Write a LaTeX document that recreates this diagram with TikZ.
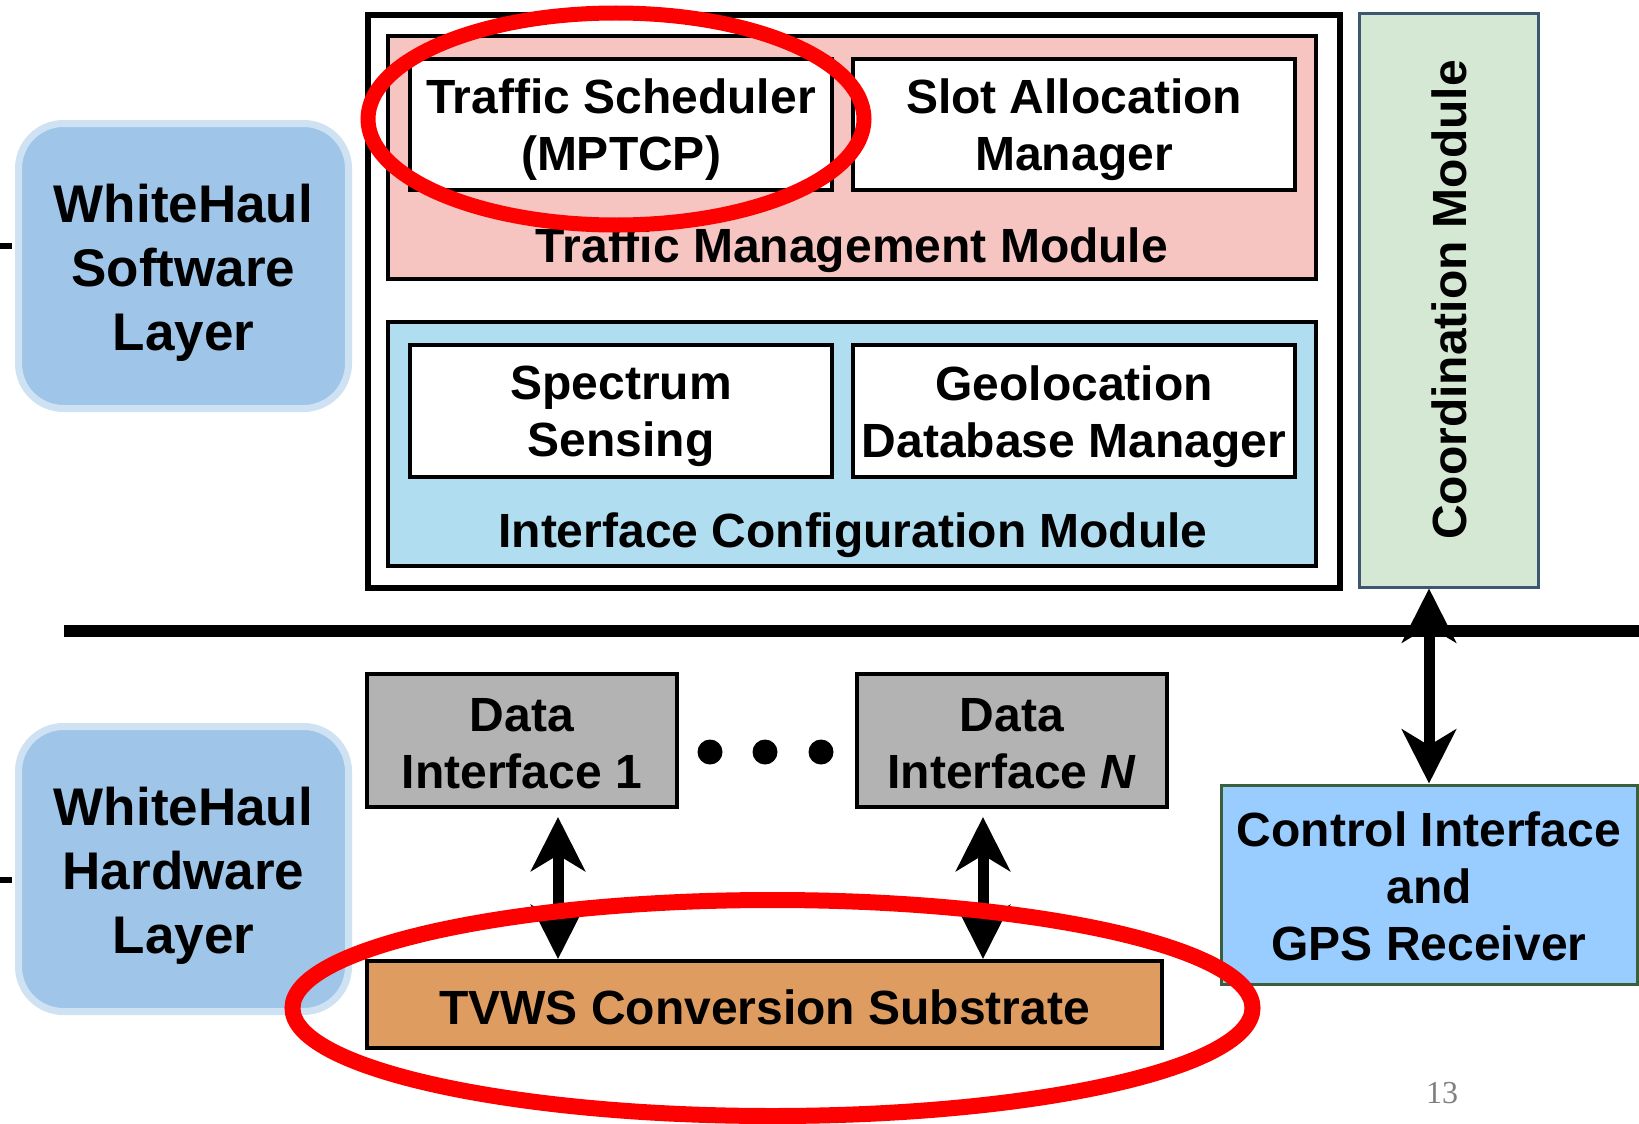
\documentclass[tikz,border=0pt]{standalone}
\usepackage{fontspec}
\setmainfont{Liberation Sans}
\newfontfamily\pagenumfont{Liberation Serif}
\usetikzlibrary{arrows.meta,calc}

\definecolor{tmmpink}{RGB}{246,196,193}
\definecolor{icmblue}{RGB}{177,221,240}
\definecolor{coordgreen}{RGB}{213,232,212}
\definecolor{coordedge}{RGB}{62,86,112}
\definecolor{datagray}{RGB}{179,179,179}
\definecolor{tvwsorange}{RGB}{222,156,96}
\definecolor{ctrlblue}{RGB}{153,204,255}
\definecolor{ctrledge}{RGB}{59,94,59}
\definecolor{layerfill}{RGB}{159,197,232}
\definecolor{layeredge}{RGB}{207,226,243}
\definecolor{markred}{RGB}{255,0,0}

\begin{document}
\begin{tikzpicture}[x=1pt,y=-1pt,
  every node/.style={font=\fontsize{48}{57}\selectfont\bfseries, align=center, inner sep=0pt},
  box/.style={draw=black, line width=4pt, rectangle},
  whitebox/.style={box, fill=white},
  layerbox/.style={draw=layeredge, fill=layerfill, line width=7pt, rounded corners=45pt,
    minimum width=330pt, minimum height=285pt},
  layertext/.style={font=\fontsize{53}{64}\selectfont\bfseries, yshift=-6.5pt},
  txt/.style={yshift=-#1},
  biarrow/.style={line width=11pt,
    {Stealth[length=54pt,width=54pt,inset=16pt]}-{Stealth[length=54pt,width=54pt,inset=16pt]}},
  dot/.style={circle, fill=black, minimum size=25pt},
  ring/.style={draw=markred}
]
\useasboundingbox (0,0) rectangle (1639,1124);
\fill[white] (0,0) rectangle (1639,1124);

% software stack frame
\node[draw=black, line width=6pt, minimum width=972pt, minimum height=573pt] (stack) at (854,301.5) {};

% traffic management module
\node[box, fill=tmmpink, minimum width=928pt, minimum height=243pt] (tmm) at (852,157.5) {};
\node[whitebox, minimum width=422pt, minimum height=131pt] (ts) at (621,124.5) {};
\node[txt=5.5pt] (tstext) at (ts) {Traffic Scheduler\\(MPTCP)};
\node[whitebox, minimum width=442pt, minimum height=131pt] (sam) at (1074,124.5) {};
\node[txt=5.5pt] (samtext) at (sam) {Slot Allocation\\Manager};
\node[txt=4pt] (tmmlabel) at (852,246) {Traffic Management Module};

% interface configuration module
\node[box, fill=icmblue, minimum width=928pt, minimum height=244pt] (icm) at (852,444) {};
\node[whitebox, minimum width=422pt, minimum height=132pt] (ss) at (621,411) {};
\node[txt=5.5pt] (sstext) at (ss) {Spectrum\\Sensing};
\node[whitebox, minimum width=442pt, minimum height=132pt] (gdm) at (1074,411) {};
\node[txt=5.5pt] (gdmtext) at (gdm) {Geolocation\\Database Manager};
\node[txt=4pt] (icmlabel) at (853,531) {Interface Configuration Module};

% coordination module
\node[draw=coordedge, fill=coordgreen, line width=3pt, minimum width=179pt, minimum height=573pt] (coord) at (1448.5,300.5) {};
\node[rotate=90] (coordlabel) at (1449,300) {Coordination Module};

% software / hardware separation bus
\coordinate (busL) at (64,631);
\coordinate (busR) at (1639,631);
\draw[line width=12pt] (busL) -- (busR);

% layer tags and their stubs
\node[layerbox] (swlayer) at (183.5,266) {};
\node[layertext] (swtext) at (swlayer) {WhiteHaul\\Software\\Layer};
\node[layerbox] (hwlayer) at (183.5,869) {};
\node[layertext] (hwtext) at (hwlayer) {WhiteHaul\\Hardware\\Layer};
\coordinate (swstub) at (0,246);
\coordinate (hwstub) at (0,880);
\draw[line width=6pt] (swstub) -- ++(12,0);
\draw[line width=6pt] (hwstub) -- ++(12,0);

% hardware blocks
\node[box, fill=datagray, minimum width=310pt, minimum height=133pt] (di1) at (522,740.5) {};
\node[txt=3.5pt] (di1text) at (di1) {Data\\Interface 1};
\node[box, fill=datagray, minimum width=310pt, minimum height=133pt] (diN) at (1012,740.5) {};
\node[txt=3.5pt] (diNtext) at (diN) {Data\\Interface \textit{N}};
\node[dot] (dotA) at (710,752) {};
\node[dot] (dotB) at (765,752) {};
\node[dot] (dotC) at (821,752) {};
\node[box, fill=tvwsorange, minimum width=795pt, minimum height=87pt] (tvws) at (764.5,1004.5) {};
\node[txt=3pt] (tvwstext) at (tvws) {TVWS Conversion Substrate};
\node[draw=ctrledge, fill=ctrlblue, line width=3pt, minimum width=416pt, minimum height=199pt] (ctrl) at (1429,884.5) {};
\node[txt=2pt] (ctrltext) at (ctrl) {Control Interface\\and\\GPS Receiver};

% links
\draw[biarrow, shorten <=8pt] ([xshift=36pt]di1.south) -- ([xshift=36pt]di1.south |- tvws.north);
\draw[biarrow, shorten <=8pt] ([xshift=-29pt]diN.south) -- ([xshift=-29pt]diN.south |- tvws.north);
\draw[biarrow] (ctrl.north |- coord.south) -- (ctrl.north);

% highlight rings
\draw[ring, line width=15pt] (616,119) ellipse [x radius=248pt, y radius=106pt];
\draw[ring, line width=16pt] (772.5,1008) ellipse [x radius=480pt, y radius=108pt];

% slide number
\node[font=\pagenumfont\fontsize{32}{38}\selectfont, text=gray] (pnum) at (1442,1093) {13};
\end{tikzpicture}
\end{document}
